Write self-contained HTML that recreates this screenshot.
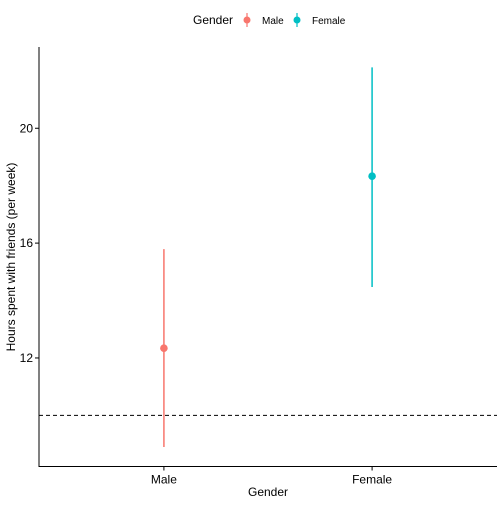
<!DOCTYPE html>
<html><head><meta charset="utf-8"><style>
body{margin:0;background:#fff;font-family:"Liberation Sans",Arial,sans-serif}
</style></head><body>
<svg id="chart" width="504" height="504" xmlns="http://www.w3.org/2000/svg">
<g>
<text x="193" y="24" font-size="12">Gender</text>
<g>
<line x1="247" y1="13" x2="247" y2="27" stroke="#F8766D" stroke-width="1.2"/><circle cx="247" cy="20" r="3.5" fill="#F8766D"/>
<text x="262" y="24" font-size="10">Male</text></g>
<g>
<line x1="297" y1="13" x2="297" y2="27" stroke="#00BFC4" stroke-width="1.2"/><circle cx="297" cy="20" r="3.5" fill="#00BFC4"/>
<text x="312" y="24" font-size="10">Female</text></g>
</g>
<g id="plot"></g>
</svg>
<script>
const categories=["Male","Female"];
const means=[12.34,18.33];
const lowers=[8.9,14.47];
const uppers=[15.79,22.12];
const yTicks=[12,16,20];
const refLine=10;
const colors=["#F8766D","#00BFC4"];
const L=39,R=497,T=47,B=466.5,yMin=8.22,yMax=22.83;
const y=v=>B-(v-yMin)/(yMax-yMin)*(B-T);
const x=i=>L+(R-L)*(i+0.6)/2.2;
const NS="http://www.w3.org/2000/svg";
const g=document.getElementById('plot');
function mk(t,a){const e=document.createElementNS(NS,t);for(const k in a)e.setAttribute(k,a[k]);g.appendChild(e);return e;}
let e;
e=mk('line',{x1:L,y1:y(refLine),x2:R,y2:y(refLine),stroke:'#000','stroke-dasharray':'4,3','stroke-width':1});


categories.forEach((c,i)=>{
 e=mk('line',{x1:x(i),x2:x(i),y1:y(lowers[i]),y2:y(uppers[i]),stroke:colors[i],'stroke-width':1.5});
 
 
 e=mk('circle',{cx:x(i),cy:y(means[i]),r:3.8,fill:colors[i]});
 
 
 mk('line',{x1:x(i),x2:x(i),y1:B,y2:B+4,stroke:'#000'});
 e=mk('text',{x:x(i),y:B+17,'font-size':12,'text-anchor':'middle',fill:'#000'});
 e.textContent=c;
 
 
});
yTicks.forEach(t=>{
 mk('line',{x1:L-4,x2:L,y1:y(t),y2:y(t),stroke:'#000'});
 e=mk('text',{x:L-6,y:y(t)+4,'font-size':12,'text-anchor':'end',fill:'#000'});
 e.textContent=t;
 
 
});
e=mk('path',{d:`M${L},${T}V${B}H${R}`,fill:'none',stroke:'#000','stroke-width':1});


e=mk('text',{x:268,y:496,'font-size':12,'text-anchor':'middle'});
e.textContent='Gender';


e=mk('text',{x:0,y:0,'font-size':12,'text-anchor':'middle',transform:'translate(15,257) rotate(-90)'});
e.textContent='Hours spent with friends (per week)';


</script>
</body></html>
